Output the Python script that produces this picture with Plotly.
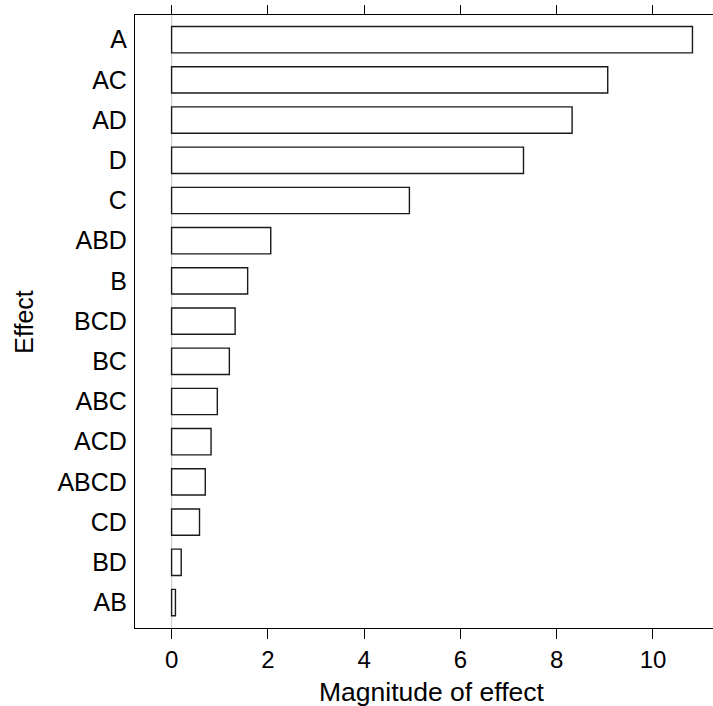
import plotly.graph_objects as go

effects = ["AB", "BD", "CD", "ABCD", "ACD", "ABC", "BC", "BCD", "B", "ABD", "C", "D", "AD", "AC", "A"]
magnitudes = [0.08, 0.20, 0.58, 0.70, 0.82, 0.95, 1.20, 1.32, 1.58, 2.06, 4.94, 7.31, 8.32, 9.06, 10.82]
x_ticks = [0, 2, 4, 6, 8, 10]

W, H = 713, 706
L, R, T, B = 135, 0, 15, 78
FONT = "Liberation Sans, Arial, Helvetica, sans-serif"

fig = go.Figure()
fig.add_trace(go.Bar(
    x=magnitudes, y=effects, orientation="h",
    width=0.655,
    marker=dict(color="white", line=dict(color="#1a1a1a", width=1.4)),
    showlegend=False,
))
# invisible trace for top axis
fig.add_trace(go.Scatter(x=[0], y=[effects[0]], xaxis="x2", mode="markers",
                         marker=dict(opacity=0), showlegend=False, hoverinfo="skip"))

fig.add_shape(type="line", xref="x", yref="paper", x0=0, x1=0, y0=0, y1=1,
              line=dict(color="#cfcfd8", width=1.2), layer="below")

xr = [-0.76, -0.76 + (W - L - R) / 48.14]
fig.update_layout(
    width=W, height=H,
    margin=dict(l=L, r=R, t=T, b=B, pad=0),
    paper_bgcolor="white", plot_bgcolor="white",
    font=dict(family=FONT, color="black"),
    xaxis=dict(range=xr, tickvals=x_ticks, ticks="outside", ticklen=10, tickwidth=1,
               tickcolor="black", showline=True, linecolor="black", linewidth=1.2,
               showgrid=False, zeroline=False, tickfont=dict(size=24, family=FONT)),
    xaxis2=dict(range=xr, matches="x", overlaying="x", side="top", tickvals=x_ticks,
                ticks="outside", ticklen=9, tickwidth=1, tickcolor="black",
                showticklabels=False, showline=True, linecolor="black", linewidth=1.2,
                showgrid=False, zeroline=False),
    yaxis=dict(type="category", categoryorder="array", categoryarray=effects,
               range=[-0.634, 14.614], showline=True, linecolor="black", linewidth=1.2,
               ticks="", showgrid=False, zeroline=False, ticklabelstandoff=2,
               tickfont=dict(size=25, family=FONT)),
    bargap=0.3,
)

def px_x(p):
    return (p - L) / (W - L - R)

def px_y(p):
    return (H - B - p) / (H - T - B)

fig.add_annotation(text="Magnitude of effect", xref="paper", yref="paper",
                   x=px_x(431.7), y=px_y(692), xanchor="center", yanchor="middle",
                   showarrow=False, font=dict(size=26.5, family=FONT))
fig.add_annotation(text="Effect", xref="paper", yref="paper",
                   x=px_x(24), y=px_y(321.7), xanchor="center", yanchor="middle",
                   textangle=-90, showarrow=False, font=dict(size=25, family=FONT))

fig.write_html("out.html")
